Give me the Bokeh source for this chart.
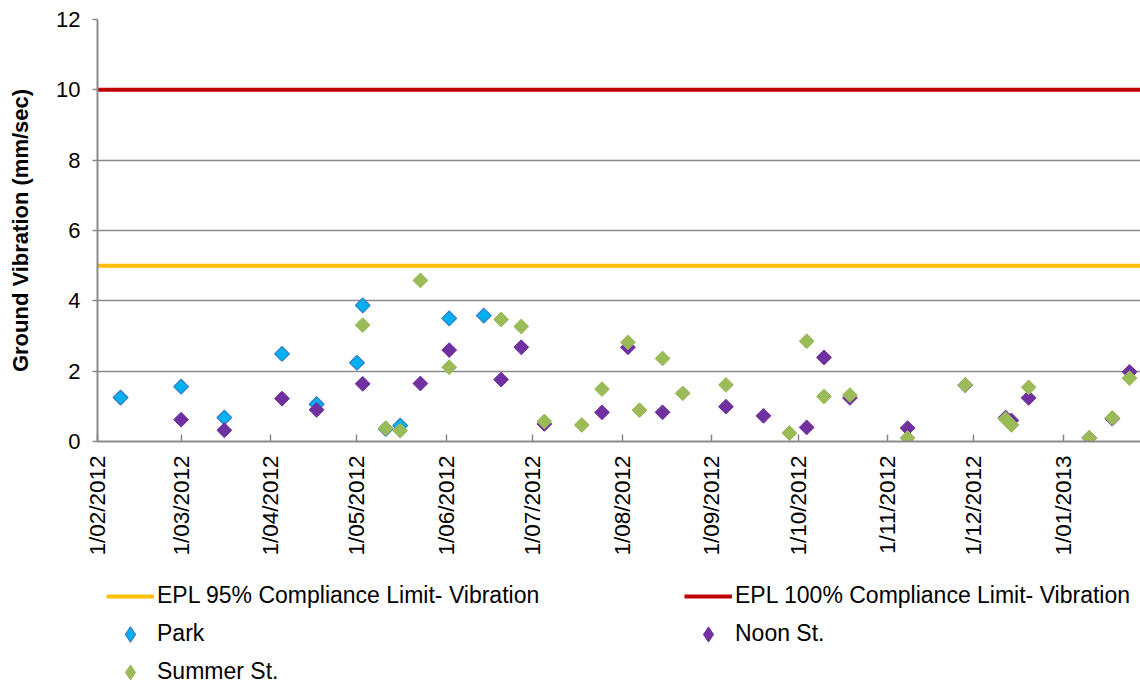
import math
import pandas as pd
from bokeh.plotting import figure
from bokeh.layouts import column
from bokeh.models import Range1d, FixedTicker, Legend, LegendItem
from bokeh.embed import file_html
from bokeh.resources import INLINE

# ---------------- data ----------------
tick_dates = ["2012-02-01", "2012-03-01", "2012-04-01", "2012-05-01", "2012-06-01", "2012-07-01",
              "2012-08-01", "2012-09-01", "2012-10-01", "2012-11-01", "2012-12-01", "2013-01-01"]
tick_labels = ["1/02/2012", "1/03/2012", "1/04/2012", "1/05/2012", "1/06/2012", "1/07/2012",
               "1/08/2012", "1/09/2012", "1/10/2012", "1/11/2012", "1/12/2012", "1/01/2013"]
y_ticks = [0, 2, 4, 6, 8, 10, 12]

park_dates = ["2012-02-09", "2012-03-01", "2012-03-16", "2012-04-05", "2012-04-17", "2012-05-01",
              "2012-05-03", "2012-05-11", "2012-05-16", "2012-06-02", "2012-06-14"]
park_values = [1.25, 1.56, 0.68, 2.49, 1.06, 2.24, 3.87, 0.36, 0.45, 3.50, 3.58]

noon_dates = ["2012-03-01", "2012-03-16", "2012-04-05", "2012-04-17", "2012-05-03", "2012-05-23",
              "2012-06-02", "2012-06-20", "2012-06-27", "2012-07-05", "2012-07-25", "2012-08-03",
              "2012-08-15", "2012-09-06", "2012-09-19", "2012-10-04", "2012-10-10", "2012-10-19",
              "2012-11-08", "2012-11-28", "2012-12-12", "2012-12-14", "2012-12-20", "2013-01-10",
              "2013-01-18", "2013-01-24"]
noon_values = [0.62, 0.32, 1.22, 0.90, 1.64, 1.65,
               2.60, 1.76, 2.68, 0.50, 0.83, 2.68,
               0.83, 0.99, 0.73, 0.40, 2.39, 1.24,
               0.38, 1.60, 0.68, 0.60, 1.24, 0.10,
               0.65, 1.98]

summer_dates = ["2012-05-03", "2012-05-11", "2012-05-16", "2012-05-23", "2012-06-02", "2012-06-20",
                "2012-06-27", "2012-07-05", "2012-07-18", "2012-07-25", "2012-08-03", "2012-08-07",
                "2012-08-15", "2012-08-22", "2012-09-06", "2012-09-28", "2012-10-04", "2012-10-10",
                "2012-10-19", "2012-11-08", "2012-11-28", "2012-12-12", "2012-12-14", "2012-12-20",
                "2013-01-10", "2013-01-18", "2013-01-24"]
summer_values = [3.31, 0.38, 0.31, 4.58, 2.11, 3.47,
                 3.27, 0.57, 0.47, 1.49, 2.82, 0.89,
                 2.36, 1.37, 1.61, 0.24, 2.85, 1.28,
                 1.32, 0.10, 1.61, 0.64, 0.47, 1.54,
                 0.10, 0.67, 1.80]

limit_95 = 5
limit_100 = 10

# ---------------- styles ----------------
FONT = "Liberation Sans"
C95, C100 = "#FFC000", "#C00000"
PARK_FILL, PARK_LINE = "#00B0F0", "#3C7DC4"
NOON = "#7030A0"
SUMMER = "#9BBB59"
ANG = math.pi / 4
MSIZE = 10.5

x_start = pd.Timestamp("2012-02-01")
x_end = pd.Timestamp("2013-01-27 19:00")
x_rng = Range1d(x_start, x_end)

park_x = pd.to_datetime(park_dates)
noon_x = pd.to_datetime(noon_dates)
summer_x = pd.to_datetime(summer_dates)

# ---------------- main chart ----------------
p = figure(width=1140, height=570, x_axis_type="datetime", output_backend="svg",
           toolbar_location=None, x_range=x_rng, y_range=Range1d(0, 12),
           min_border_left=97, min_border_right=0, min_border_top=19, min_border_bottom=129)
p.outline_line_color = None
p.background_fill_color = "white"
p.border_fill_color = "white"

grid_col = "#8a8a8a"
p.xgrid.visible = False
p.ygrid.grid_line_color = grid_col
p.ygrid.grid_line_width = 1.5
p.ygrid.ticker = FixedTicker(ticks=y_ticks)

tick_ms = [pd.Timestamp(d).value // 10**6 for d in tick_dates]
p.xaxis.ticker = FixedTicker(ticks=tick_ms)
p.xaxis.major_label_overrides = {t: lab for t, lab in zip(tick_ms, tick_labels)}
p.xaxis.major_label_orientation = math.pi / 2
p.xaxis.major_tick_in = 7
p.xaxis.major_tick_out = 0
p.xaxis.minor_tick_line_color = None
p.xaxis.major_label_standoff = 14
p.xaxis.axis_line_color = grid_col
p.xaxis.axis_line_width = 2
p.xaxis.major_tick_line_color = grid_col
p.xaxis.major_tick_line_width = 1.5
p.xaxis.major_label_text_font = FONT
p.xaxis.major_label_text_font_size = "22.5px"
p.xaxis.major_label_text_color = "black"

p.yaxis.ticker = FixedTicker(ticks=y_ticks)
p.yaxis.major_tick_in = 0
p.yaxis.major_tick_out = 5
p.yaxis.minor_tick_line_color = None
p.yaxis.major_label_standoff = 12
p.yaxis.axis_line_color = grid_col
p.yaxis.axis_line_width = 2
p.yaxis.major_tick_line_color = grid_col
p.yaxis.major_tick_line_width = 1.5
p.yaxis.major_label_text_font = FONT
p.yaxis.major_label_text_font_size = "22px"
p.yaxis.major_label_text_color = "black"
p.yaxis.axis_label = "Ground Vibration (mm/sec)"
p.yaxis.axis_label_text_font = FONT
p.yaxis.axis_label_text_font_size = "22px"
p.yaxis.axis_label_text_font_style = "bold"
p.yaxis.axis_label_text_color = "black"
p.yaxis.axis_label_standoff = 20

p.line(x=[x_start, x_end], y=[limit_95, limit_95], line_color=C95, line_width=4)
p.line(x=[x_start, x_end], y=[limit_100, limit_100], line_color=C100, line_width=4)

p.scatter(x=park_x, y=park_values, marker="square", size=MSIZE, angle=ANG,
          fill_color=PARK_FILL, line_color=PARK_LINE, line_width=1.2)
p.scatter(x=noon_x, y=noon_values, marker="square", size=MSIZE, angle=ANG,
          fill_color=NOON, line_color=NOON, line_width=1)
p.scatter(x=summer_x, y=summer_values, marker="square", size=MSIZE, angle=ANG,
          fill_color=SUMMER, line_color=SUMMER, line_width=1)

# ---------------- legend strip ----------------
# proxy renderers carry the same series; the strip's y range lies below all data,
# so only their legend glyphs are seen (legend markers are never rotated, hence "diamond")
lg = figure(width=1140, height=116, output_backend="svg", toolbar_location=None,
            x_range=x_rng, y_range=Range1d(-20, -10), min_border=0,
            x_axis_location=None, y_axis_location=None)
lg.outline_line_color = None
lg.grid.visible = False
lg.background_fill_color = "white"
lg.border_fill_color = "white"

l95 = lg.line(x=[x_start, x_end], y=[limit_95, limit_95], line_color=C95, line_width=4)
l100 = lg.line(x=[x_start, x_end], y=[limit_100, limit_100], line_color=C100, line_width=4)
lpark = lg.scatter(x=park_x, y=park_values, marker="diamond",
                   fill_color=PARK_FILL, line_color=PARK_LINE, line_width=1.2)
lnoon = lg.scatter(x=noon_x, y=noon_values, marker="diamond",
                   fill_color=NOON, line_color=NOON, line_width=1)
lsum = lg.scatter(x=summer_x, y=summer_values, marker="diamond",
                  fill_color=SUMMER, line_color=SUMMER, line_width=1)

legend = Legend(items=[
    LegendItem(label="EPL 95% Compliance Limit- Vibration", renderers=[l95]),
    LegendItem(label="Park", renderers=[lpark]),
    LegendItem(label="Summer St.", renderers=[lsum]),
    LegendItem(label="EPL 100% Compliance Limit- Vibration", renderers=[l100]),
    LegendItem(label="Noon St.", renderers=[lnoon]),
], location=(9, -4.7), orientation="vertical", ncols=2,
    glyph_width=48, glyph_height=38, label_standoff=3, label_width=527, label_height=20,
    spacing=0, padding=0, margin=0, border_line_color=None, background_fill_alpha=0,
    label_text_font=FONT, label_text_font_size="23px", label_text_color="black")
lg.add_layout(legend, "center")

layout = column(p, lg, spacing=0)
open("out.html", "w").write(file_html(layout, INLINE))
